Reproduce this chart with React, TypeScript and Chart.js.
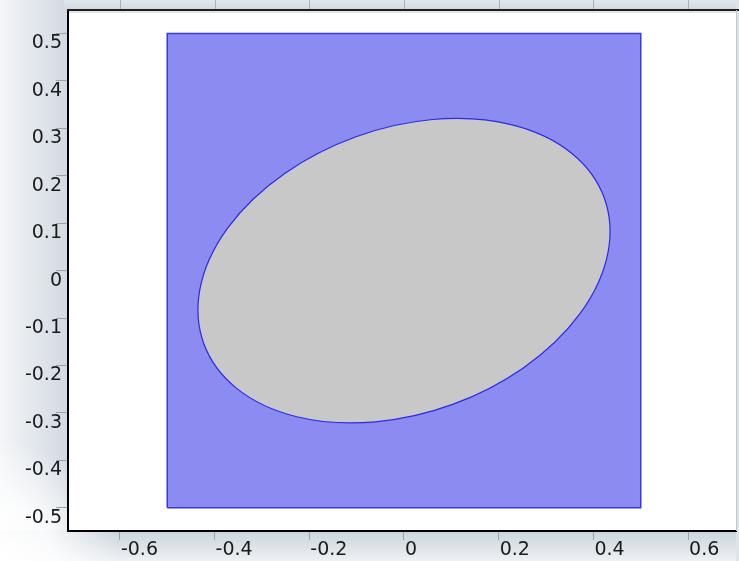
import React, { useEffect, useRef } from "react";
import { Chart, registerables } from "chart.js";

Chart.register(...registerables);

// Axis ticks and labels
const X_TICKS = [-0.6, -0.4, -0.2, 0, 0.2, 0.4, 0.6];
const X_TICK_LABELS = ["-0.6", "-0.4", "-0.2", "0", "0.2", "0.4", "0.6"];
const Y_TICKS = [-0.5, -0.4, -0.3, -0.2, -0.1, 0, 0.1, 0.2, 0.3, 0.4, 0.5];
const Y_TICK_LABELS = ["-0.5", "-0.4", "-0.3", "-0.2", "-0.1", "0", "0.1", "0.2", "0.3", "0.4", "0.5"];

// Visible axis range
const X_RANGE = [-0.7096, 0.7012];
const Y_RANGE = [-0.5489, 0.5496];

// Geometry: square domain
const RECT_X = [-0.5, 0.5, 0.5, -0.5, -0.5];
const RECT_Y = [-0.5, -0.5, 0.5, 0.5, -0.5];

// Geometry: rotated ellipse (center, semi-axes, rotation in degrees)
const ELLIPSE_CENTER = [0, 0];
const ELLIPSE_SEMIAXES = [0.45, 0.3];
const ELLIPSE_ROTATION_DEG = [20];

const FONT = { family: "'DejaVu Sans', sans-serif", size: 19 };

const backgroundPlugin = {
  id: "comsolFrame",
  beforeDraw(chart: any) {
    const { ctx, width, height, chartArea: a } = chart;
    ctx.save();
    ctx.fillStyle = "#ffffff";
    ctx.fillRect(0, 0, width, height);

    // left strip gradient
    let g = ctx.createLinearGradient(0, 0, a.left, 0);
    g.addColorStop(0, "#f4f6f8");
    g.addColorStop(1, "#d2d9e1");
    ctx.fillStyle = g;
    ctx.fillRect(0, 0, a.left, a.bottom);

    // bottom strip gradient
    g = ctx.createLinearGradient(0, a.bottom, 0, height);
    g.addColorStop(0, "#cbd3db");
    g.addColorStop(1, "#eef1f4");
    ctx.fillStyle = g;
    ctx.fillRect(0, a.bottom, width, height - a.bottom);

    // top strip
    g = ctx.createLinearGradient(0, 0, 0, a.top);
    g.addColorStop(0, "#e1e7ec");
    g.addColorStop(1, "#d1d9e1");
    ctx.fillStyle = g;
    ctx.fillRect(a.left - 4, 0, width - a.left + 4, a.top);

    // right strip
    ctx.fillStyle = "#dfe4e9";
    ctx.fillRect(a.right, 0, width - a.right, height);

    // soften bottom-left corner
    const r = ctx.createRadialGradient(0, height, 0, 0, height, 120);
    r.addColorStop(0, "rgba(255,255,255,1)");
    r.addColorStop(0.45, "rgba(255,255,255,0.85)");
    r.addColorStop(1, "rgba(255,255,255,0)");
    ctx.fillStyle = r;
    ctx.fillRect(0, a.bottom - 120, a.left, 120);
    ctx.fillRect(0, a.bottom, 200, height - a.bottom);

    // plot area
    ctx.fillStyle = "#ffffff";
    ctx.fillRect(a.left, a.top, a.right - a.left, a.bottom - a.top);

    // top strip tick marks
    const xs = chart.scales.x;
    ctx.strokeStyle = "#a9b2bb";
    ctx.lineWidth = 1;
    X_TICKS.forEach((v) => {
      const px = Math.round(xs.getPixelForValue(v)) + 0.5;
      ctx.beginPath();
      ctx.moveTo(px, 0);
      ctx.lineTo(px, a.top - 1);
      ctx.stroke();
    });
    ctx.restore();
  },
  afterDraw(chart: any) {
    const { ctx, width, chartArea: a } = chart;
    ctx.save();
    // top frame line and soft shadow
    ctx.fillStyle = "#1e1e1e";
    ctx.fillRect(a.left - 1, a.top - 1, width - a.left + 1, 2);
    ctx.fillStyle = "#e4e4e4";
    ctx.fillRect(a.left + 1, a.top + 1, a.right - a.left - 1, 2);
    // right frame line
    ctx.fillStyle = "#c2c7cc";
    ctx.fillRect(a.right, a.top, 1, a.bottom - a.top);
    ctx.restore();
  },
};

const ellipsePlugin = {
  id: "ellipseShape",
  afterDatasetsDraw(chart: any) {
    const { ctx } = chart;
    const xs = chart.scales.x;
    const ys = chart.scales.y;
    const cx = xs.getPixelForValue(ELLIPSE_CENTER[0]);
    const cy = ys.getPixelForValue(ELLIPSE_CENTER[1]);
    const rx = Math.abs(xs.getPixelForValue(ELLIPSE_CENTER[0] + ELLIPSE_SEMIAXES[0]) - cx);
    const ry = Math.abs(ys.getPixelForValue(ELLIPSE_CENTER[1] + ELLIPSE_SEMIAXES[1]) - cy);
    ctx.save();
    ctx.beginPath();
    ctx.ellipse(cx, cy, rx, ry, (-ELLIPSE_ROTATION_DEG[0] * Math.PI) / 180, 0, Math.PI * 2);
    ctx.fillStyle = "#c8c8c8";
    ctx.fill();
    ctx.lineWidth = 1.2;
    ctx.strokeStyle = "#2a2ae6";
    ctx.stroke();
    ctx.restore();
  },
};

export default function App() {
  const ref = useRef<HTMLCanvasElement>(null);

  useEffect(() => {
    if (!ref.current) return;
    const rectData = RECT_X.map((x, i) => ({ x, y: RECT_Y[i] }));
    const chart = new Chart(ref.current, {
      type: "scatter",
      data: {
        datasets: [
          {
            data: rectData,
            showLine: true,
            fill: "shape",
            backgroundColor: "#8b8bf2",
            borderColor: "#3636ea",
            borderWidth: 1.5,
            pointRadius: 0,
            tension: 0,
          } as any,
        ],
      },
      options: {
        responsive: false,
        animation: false,
        events: [],
        devicePixelRatio: 1,
        layout: { padding: { left: 0, top: 10, right: 3, bottom: 0 } },
        plugins: { legend: { display: false }, tooltip: { enabled: false } },
        scales: {
          x: {
            type: "linear",
            position: "bottom",
            min: X_RANGE[0],
            max: X_RANGE[1],
            afterFit(s: any) {
              s.height = 30;
            },
            afterBuildTicks(s: any) {
              s.ticks = X_TICKS.map((v) => ({ value: v }));
            },
            ticks: {
              autoSkip: false,
              maxRotation: 0,
              align: "start",
              labelOffset: 1,
              padding: -1,
              color: "#1a1a1a",
              font: FONT,
              callback: (_v: any, i: number) => X_TICK_LABELS[i],
            },
            grid: {
              drawOnChartArea: false,
              drawTicks: true,
              tickLength: 9,
              tickColor: "#9aa3ac",
              tickWidth: 1,
            },
            border: { display: true, color: "#000000", width: 2 },
          },
          y: {
            type: "linear",
            position: "left",
            min: Y_RANGE[0],
            max: Y_RANGE[1],
            afterFit(s: any) {
              s.width = 68;
            },
            afterBuildTicks(s: any) {
              s.ticks = Y_TICKS.map((v) => ({ value: v }));
            },
            ticks: {
              autoSkip: false,
              crossAlign: "near",
              labelOffset: 10,
              padding: -6,
              color: "#1a1a1a",
              font: FONT,
              callback: (_v: any, i: number) => Y_TICK_LABELS[i],
            },
            grid: {
              drawOnChartArea: false,
              drawTicks: true,
              tickLength: 12,
              tickColor: "#9aa3ac",
              tickWidth: 1,
            },
            border: { display: true, color: "#000000", width: 2 },
          },
        },
      } as any,
      plugins: [backgroundPlugin, ellipsePlugin],
    });
    return () => chart.destroy();
  }, []);

  return (
    <div style={{ position: "fixed", left: 0, top: 0, width: 739, height: 561, background: "#fff" }}>
      <canvas ref={ref} width={739} height={561} style={{ display: "block", width: 739, height: 561 }} />
    </div>
  );
}
